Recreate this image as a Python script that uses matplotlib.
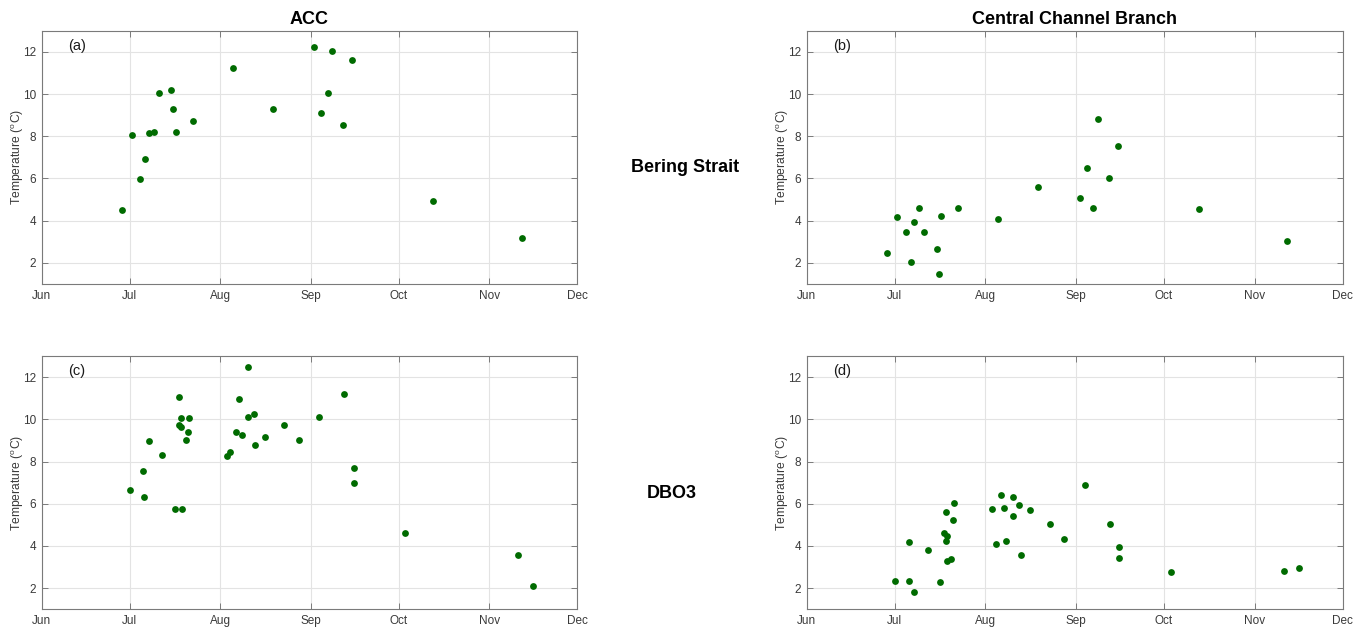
import matplotlib
matplotlib.use("Agg")
import matplotlib.pyplot as plt
import matplotlib.dates as mdates
import pandas as pd

plt.rcParams['font.family'] = ['Liberation Sans', 'DejaVu Sans']
plt.rcParams['mathtext.fontset'] = 'custom'
plt.rcParams['mathtext.rm'] = 'Liberation Sans'
plt.rcParams['mathtext.it'] = 'Liberation Sans'

# ---------------- data ----------------
acc_bs_dates = ["2019-06-28 14:00", "2019-07-01 19:00", "2019-07-04 18:00", "2019-07-06 07:00",
                "2019-07-07 19:00", "2019-07-09 05:00", "2019-07-11 00:00", "2019-07-15 07:00",
                "2019-07-16 00:00", "2019-07-17 00:00", "2019-07-22 19:00", "2019-08-05 07:00",
                "2019-08-18 22:00", "2019-09-01 22:00", "2019-09-08 02:00", "2019-09-15 02:00",
                "2019-09-06 17:00", "2019-09-04 14:00", "2019-09-12 00:00", "2019-10-12 17:00",
                "2019-11-12 00:00"]
acc_bs_temp = [4.50, 8.05, 5.98, 6.94, 8.13, 8.18, 10.03, 10.18, 9.28, 8.19, 8.71, 11.23,
               9.30, 12.24, 12.02, 11.59, 10.03, 9.12, 8.52, 4.92, 3.18]

ccb_bs_dates = ["2019-06-28 14:00", "2019-07-01 17:00", "2019-07-04 22:00", "2019-07-06 12:00",
                "2019-07-07 19:00", "2019-07-09 07:00", "2019-07-11 00:00", "2019-07-15 10:00",
                "2019-07-16 02:00", "2019-07-17 00:00", "2019-07-22 19:00", "2019-08-05 07:00",
                "2019-08-19 00:00", "2019-09-02 07:00", "2019-09-04 19:00", "2019-09-06 22:00",
                "2019-09-08 07:00", "2019-09-12 07:00", "2019-09-15 07:00", "2019-10-12 22:00",
                "2019-11-12 02:00"]
ccb_bs_temp = [2.47, 4.18, 3.44, 2.02, 3.94, 4.62, 3.47, 2.65, 1.48, 4.20, 4.59, 4.09,
               5.60, 5.08, 6.50, 4.59, 8.81, 6.03, 7.56, 4.53, 3.03]

acc_dbo_dates = ["2019-07-01 00:00", "2019-07-05 17:00", "2019-07-06 02:00", "2019-07-07 17:00",
                 "2019-07-12 06:00", "2019-07-16 12:00", "2019-07-18 00:00", "2019-07-17 22:00",
                 "2019-07-18 17:00", "2019-07-18 14:00", "2019-07-18 23:00", "2019-07-20 10:00",
                 "2019-07-21 00:00", "2019-07-21 07:00", "2019-08-03 07:00", "2019-08-04 12:00",
                 "2019-08-06 07:00", "2019-08-07 10:00", "2019-08-08 10:00", "2019-08-10 12:00",
                 "2019-08-10 12:00", "2019-08-12 14:00", "2019-08-13 00:00", "2019-08-16 05:00",
                 "2019-08-22 19:00", "2019-08-27 22:00", "2019-09-03 19:00", "2019-09-12 10:00",
                 "2019-09-15 17:00", "2019-09-15 17:00", "2019-10-03 07:00", "2019-11-10 19:00",
                 "2019-11-15 17:00"]
acc_dbo_temp = [6.64, 7.53, 6.30, 8.98, 8.33, 5.73, 11.04, 9.71, 9.66, 10.05, 5.75, 9.03,
                9.38, 10.06, 8.24, 8.44, 9.42, 10.96, 9.25, 12.47, 10.09, 10.25, 8.78, 9.14,
                9.73, 9.01, 10.09, 11.21, 7.70, 6.98, 4.62, 3.55, 2.09]

ccb_dbo_dates = ["2019-07-01 00:00", "2019-07-05 19:00", "2019-07-06 02:00", "2019-07-07 14:00",
                 "2019-07-12 10:00", "2019-07-16 12:00", "2019-07-17 22:00", "2019-07-18 17:00",
                 "2019-07-18 23:00", "2019-07-18 17:00", "2019-07-18 23:00", "2019-07-20 10:00",
                 "2019-07-20 22:00", "2019-07-21 05:00", "2019-08-03 05:00", "2019-08-04 12:00",
                 "2019-08-06 05:00", "2019-08-07 10:00", "2019-08-08 05:00", "2019-08-10 12:00",
                 "2019-08-10 12:00", "2019-08-12 10:00", "2019-08-13 00:00", "2019-08-16 07:00",
                 "2019-08-22 22:00", "2019-08-28 00:00", "2019-09-04 00:00", "2019-09-12 12:00",
                 "2019-09-15 19:00", "2019-09-15 19:00", "2019-10-03 07:00", "2019-11-11 00:00",
                 "2019-11-15 22:00"]
ccb_dbo_temp = [2.36, 2.36, 4.18, 1.83, 3.82, 2.30, 4.62, 5.60, 4.46, 4.24, 3.30, 3.39,
                5.21, 6.04, 5.76, 4.10, 6.41, 5.78, 4.24, 6.31, 5.44, 5.95, 3.58, 5.71,
                5.02, 4.32, 6.87, 5.06, 3.94, 3.44, 2.79, 2.82, 2.98]

panel_labels = ["(a)", "(b)", "(c)", "(d)"]
col_titles = ["ACC", "Central Channel Branch"]
row_titles = ["Bering Strait", "DBO3"]
y_label = r"Temperature (${}^{\mathrm{o}}$C)"
x_start, x_end = "2019-06-01", "2019-12-01"
y_min, y_max = 1, 13
y_ticks = [2, 4, 6, 8, 10, 12]

# ---------------- figure ----------------
W, H = 1362, 628
fig = plt.figure(figsize=(W / 100, H / 100), dpi=100)

def px_axes(l, t, r, b):
    return fig.add_axes([l / W, 1 - b / H, (r - l) / W, (b - t) / H])

boxes = [(41.7, 30.7, 577.3, 284.0), (806.7, 30.7, 1342.7, 284.0),
         (41.7, 356.0, 577.3, 609.3), (806.7, 356.0, 1342.7, 609.3)]
series = [(acc_bs_dates, acc_bs_temp), (ccb_bs_dates, ccb_bs_temp),
          (acc_dbo_dates, acc_dbo_temp), (ccb_dbo_dates, ccb_dbo_temp)]

spine_col = '#7a7a7a'
tick_col = '#3a3a3a'
green = '#006b00'

for box, (d, t), lab in zip(boxes, series, panel_labels):
    ax = px_axes(*box)
    ax.plot(pd.to_datetime(d), t, 'o', color=green, markersize=4.9,
            markeredgewidth=0, zorder=3)
    ax.set_xlim(pd.Timestamp(x_start), pd.Timestamp(x_end))
    ax.set_ylim(y_min, y_max)
    ax.set_yticks(y_ticks)
    ax.xaxis.set_major_locator(mdates.MonthLocator())
    ax.xaxis.set_major_formatter(mdates.DateFormatter('%b'))
    ax.grid(True, color='#e3e3e3', linewidth=0.8, zorder=0)
    ax.set_axisbelow(True)
    for s in ax.spines.values():
        s.set_color(spine_col)
        s.set_linewidth(0.8)
    ax.tick_params(axis='both', direction='in', top=True, right=True, length=4,
                   width=0.7, color=spine_col, labelcolor=tick_col, labelsize=8.5, pad=4)
    ax.set_ylabel(y_label, fontsize=8.7, color=tick_col)
    ax.yaxis.set_label_coords(-0.029, 0.5)
    ax.text(0.05, 0.94, lab, transform=ax.transAxes, fontsize=10.5, color='#1a1a1a',
            ha='left', va='center')

fig.text((41.7 + 577.3) / 2 / W, 1 - 19 / H, col_titles[0], ha='center', va='center',
         fontsize=13, fontweight='bold')
fig.text((806.7 + 1342.7) / 2 / W, 1 - 19 / H, col_titles[1], ha='center', va='center',
         fontsize=13, fontweight='bold')
fig.text(685 / W, 1 - 168 / H, row_titles[0], ha='center', va='center',
         fontsize=13, fontweight='bold')
fig.text(672 / W, 1 - 493 / H, row_titles[1], ha='center', va='center',
         fontsize=13, fontweight='bold')

fig.savefig('out.png', dpi=100, facecolor='white')
